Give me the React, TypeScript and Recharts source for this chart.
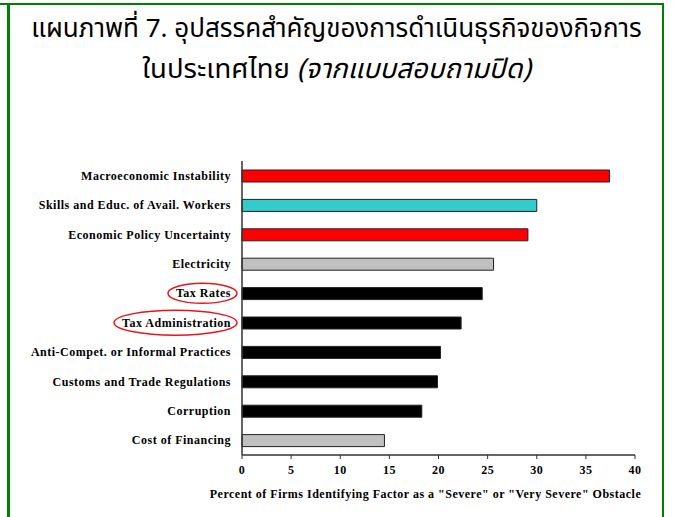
import React, { useLayoutEffect, useRef, useState } from 'react';
import { BarChart, Bar, XAxis, YAxis, Cell, Label } from 'recharts';

const categories = [
  'Macroeconomic Instability',
  'Skills and Educ. of Avail. Workers',
  'Economic Policy Uncertainty',
  'Electricity',
  'Tax Rates',
  'Tax Administration',
  'Anti-Compet. or Informal Practices',
  'Customs and Trade Regulations',
  'Corruption',
  'Cost of Financing',
];
const values = [37.4, 30.0, 29.1, 25.6, 24.45, 22.3, 20.2, 19.9, 18.3, 14.5];
const barColors = [
  '#FF0000', '#33CCCC', '#FF0000', '#C0C0C0', '#000000',
  '#000000', '#000000', '#000000', '#000000', '#C0C0C0',
];
const xTicks = [0, 5, 10, 15, 20, 25, 30, 35, 40];
const highlighted = ['Tax Rates', 'Tax Administration'];
const titleLine1 = 'แผนภาพที่ 7. อุปสรรคสำคัญของการดำเนินธุรกิจของกิจการ';
const titleLine2a = 'ในประเทศไทย ';
const titleLine2b = '(จากแบบสอบถามปิด)';
const xAxisTitle = 'Percent of Firms Identifying Factor as a "Severe" or "Very Severe" Obstacle';

const data = categories.map((name, i) => ({ name, value: values[i], color: barColors[i] }));

const SERIF = '"Liberation Serif", "Times New Roman", serif';
const THAI = '"Noto Sans Thai", Tahoma, "Noto Sans", sans-serif';

function CategoryTick(props: any) {
  const { x, y, payload } = props;
  const ref = useRef<SVGTextElement>(null);
  const [box, setBox] = useState<{ x: number; w: number } | null>(null);
  const isHi = highlighted.includes(payload.value);
  useLayoutEffect(() => {
    if (isHi && ref.current) {
      const b = ref.current.getBBox();
      setBox({ x: b.x, w: b.width });
    }
  }, [isHi, payload.value, x, y]);
  return (
    <g>
      <text
        ref={ref}
        x={x}
        y={y}
        textAnchor="end"
        dominantBaseline="central"
        fontFamily={SERIF}
        fontWeight="bold"
        fontSize={12}
        letterSpacing={0.5}
        fill="#000"
      >
        {payload.value}
      </text>
      {isHi && box && (
        <ellipse
          cx={box.x + box.w / 2 - 1}
          cy={y}
          rx={box.w / 2 + 7}
          ry={payload.value.length > 12 ? 12.5 : 10}
          fill="none"
          stroke="#E8141B"
          strokeWidth={1.5}
        />
      )}
    </g>
  );
}

export default function App() {
  return (
    <div
      style={{
        position: 'absolute',
        left: 0,
        top: 0,
        width: 673,
        height: 517,
        overflow: 'hidden',
        background: '#fff',
      }}
    >
      <div style={{ position: 'absolute', left: 0, top: 3, width: 664, height: 2, background: '#008000' }} />
      <div style={{ position: 'absolute', left: 7, top: 3, width: 3, height: 514, background: '#008000' }} />
      <div style={{ position: 'absolute', left: 662, top: 3, width: 2, height: 514, background: '#008000' }} />
      <div
        style={{
          position: 'absolute',
          left: 0,
          top: 8,
          width: 673,
          textAlign: 'center',
          fontFamily: THAI,
          color: '#000',
        }}
      >
        <div style={{ fontSize: 26, lineHeight: '42px' }}>{titleLine1}</div>
        <div style={{ fontSize: 27.5, lineHeight: '40px' }}>
          {titleLine2a}
          <span style={{ fontStyle: 'italic' }}>{titleLine2b}</span>
        </div>
      </div>
      <div style={{ position: 'absolute', left: 0, top: 0 }}>
        <BarChart
          width={673}
          height={517}
          layout="vertical"
          data={data}
          margin={{ top: 161, right: 38, bottom: 0, left: 0 }}
          barSize={12}
        >
          <XAxis
            type="number"
            domain={[0, 40]}
            ticks={xTicks}
            interval={0}
            height={62}
            tickSize={4}
            tickMargin={6}
            axisLine={{ stroke: '#333', strokeWidth: 1.5 }}
            tickLine={{ stroke: '#333' }}
            tick={{ fontFamily: SERIF, fontWeight: 'bold', fontSize: 12, letterSpacing: 0.5, fill: '#000' }}
          >
            <Label
              value={xAxisTitle}
              position="insideBottom"
              offset={19}
              dx={-13}
              style={{ fontFamily: SERIF, fontWeight: 'bold', fontSize: 12, letterSpacing: 0.5, fill: '#000' }}
            />
          </XAxis>
          <XAxis
            xAxisId="top"
            orientation="top"
            type="number"
            domain={[0, 40]}
            height={0}
            tick={false}
            tickLine={false}
            axisLine={{ stroke: '#999' }}
          />
          <YAxis
            type="category"
            dataKey="name"
            width={242}
            interval={0}
            tickSize={0}
            tickMargin={11}
            axisLine={{ stroke: '#333', strokeWidth: 1.5 }}
            tickLine={false}
            tick={<CategoryTick />}
          />
          <YAxis
            yAxisId="right"
            orientation="right"
            type="category"
            dataKey="name"
            width={0}
            tick={false}
            tickLine={false}
            axisLine={{ stroke: '#999' }}
          />
          <Bar dataKey="value" isAnimationActive={false} stroke="#222" strokeWidth={1}>
            {data.map((d, i) => (
              <Cell key={i} fill={d.color} />
            ))}
          </Bar>
        </BarChart>
      </div>
    </div>
  );
}
